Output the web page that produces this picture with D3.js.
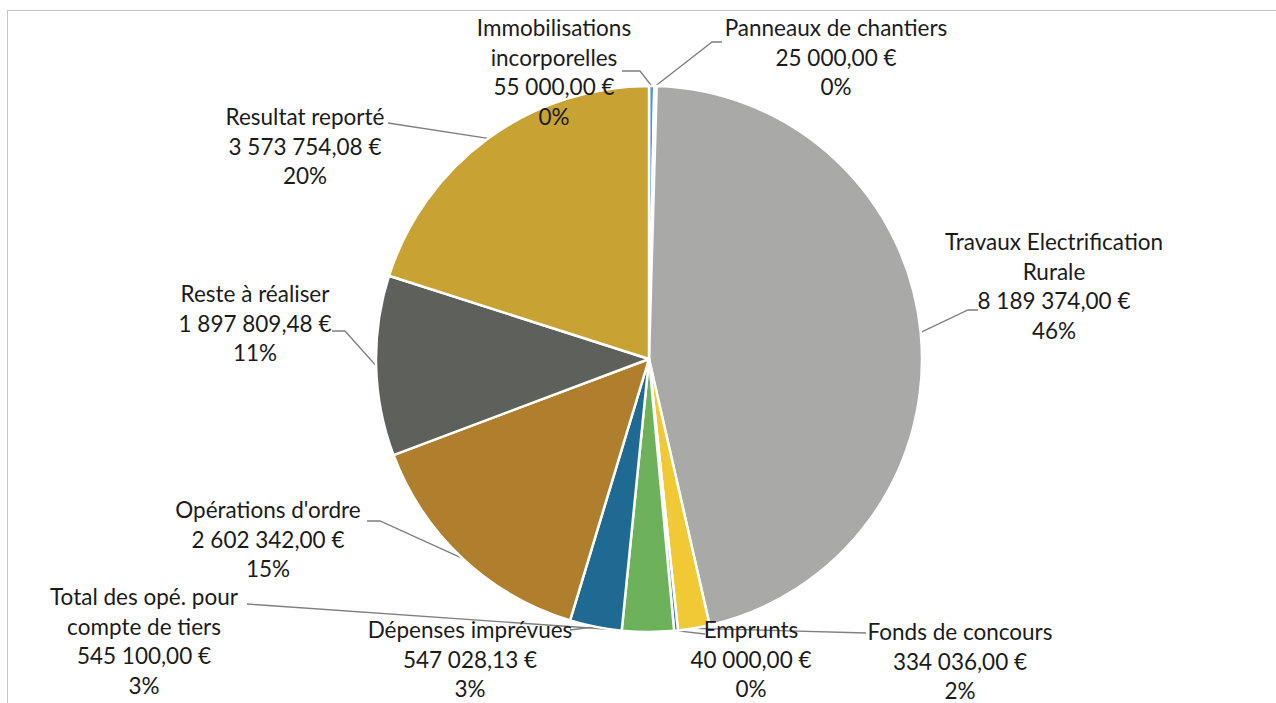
<!DOCTYPE html>
<html>
<head>
<meta charset="utf-8">
<script src="https://cdn.jsdelivr.net/npm/d3@7"></script>
<style>
  html, body { margin: 0; padding: 0; background: #fff; }
  svg { display: block; }
  .label { font-family: Lato, "Noto Sans", sans-serif; font-size: 22.5px; fill: #1b1b1b; }
  .leader { fill: none; stroke: #7f7f7f; stroke-width: 1.3; }
</style>
</head>
<body>
<svg id="chart" width="1276" height="703"></svg>
<script>
// data (order = clockwise from 12 o'clock)
var categories = [
    ["Immobilisations", "incorporelles"],
    ["Panneaux de chantiers"],
    ["Travaux Electrification", "Rurale"],
    ["Fonds de concours"],
    ["Emprunts"],
    ["Total des opé. pour", "compte de tiers"],
    ["Dépenses imprévues"],
    ["Opérations d'ordre"],
    ["Reste à réaliser"],
    ["Resultat reporté"]
];
var values = [55000, 25000, 8189374, 334036, 40000, 545100, 547028.13, 2602342, 1897809.48, 3573754.08];
var colors = ["#4f96d8", "#e27f3a", "#a9aaa8", "#f1c935", "#4472c4", "#6db25a", "#1e6a92", "#b07f2d", "#5e605c", "#c8a232"];

// label layout: [centre x, first baseline y] and leader start / elbow
var labelAt = [[554, 36], [836, 36], [1054, 250], [960, 640], [751, 638], [144, 605], [470, 638], [268, 518], [255, 302], [305, 125]];
var leadFrom = [[622, 71, 640], [722, 42, 712], [978, 310, 968], [866, 633, 866], [705, 634, 705], [247, 604, 247], [570, 630, 570], [367, 521, 380], [332, 331, 345], [388, 123, 388]];

var svg = d3.select("#chart");
var cx = 649, cy = 359, radius = 273, lineH = 29.5;

// chart frame (only top/left edges are visible in the view)
svg.append("rect")
    .attr("x", 7.5).attr("y", 10.5)
    .attr("width", 1300).attr("height", 720)
    .attr("fill", "none").attr("stroke", "#c4c4c4").attr("stroke-width", 1);

var total = d3.sum(values);
var fmtNum = function (v) {
    var parts = v.toFixed(2).split(".");
    return parts[0].replace(/\B(?=(\d{3})+(?!\d))/g, " ") + "," + parts[1] + " €";
};
var fmtPct = function (v) { return Math.round(v / total * 100) + "%"; };

var pie = d3.pie().sort(null).value(function (d) { return d; });
var arcs = pie(values);
var arc = d3.arc().innerRadius(0).outerRadius(radius);

// leader lines go to the outer arc at the slice's middle angle (drawn under the slices)
var edgePoint = function (d) {
    var a = (d.startAngle + d.endAngle) / 2;
    return [cx + radius * Math.sin(a), cy - radius * Math.cos(a)];
};
svg.selectAll("path.leader")
    .data(arcs)
    .enter().append("path")
    .attr("class", "leader")
    .attr("d", function (d, i) {
        var p = edgePoint(d), s = leadFrom[i];
        return d3.line()([[s[0], s[1]], [s[2], s[1]], p]);
    });

var g = svg.append("g").attr("transform", "translate(" + cx + "," + cy + ")");
g.selectAll("path.slice")
    .data(arcs)
    .enter().append("path")
    .attr("class", "slice")
    .attr("d", arc)
    .attr("fill", function (d, i) { return colors[i]; })
    .attr("stroke", "#fff")
    .attr("stroke-width", 2.5)
    .attr("stroke-linejoin", "round");

var labels = svg.selectAll("text.label")
    .data(arcs)
    .enter().append("text")
    .attr("class", "label")
    .attr("text-anchor", "middle");
labels.each(function (d, i) {
    var lines = categories[i].concat([fmtNum(values[i]), fmtPct(values[i])]);
    var t = d3.select(this);
    lines.forEach(function (s, k) {
        t.append("tspan")
            .attr("x", labelAt[i][0])
            .attr("y", labelAt[i][1] + k * lineH)
            .text(s);
    });
});
</script>
</body>
</html>
